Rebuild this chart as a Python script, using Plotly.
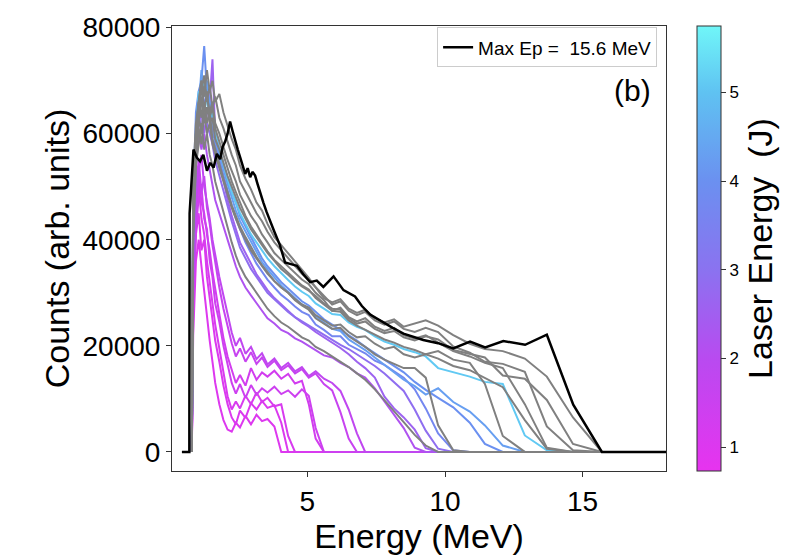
import plotly.graph_objects as go
from plotly.colors import sample_colorscale

# ---------------- data ----------------
# shared spectrometer energy grid (MeV)
E_GRID = [0.85, 0.95, 1.05, 1.15, 1.25, 1.35, 1.45, 1.55, 1.65, 1.80, 1.95, 2.10,
          2.25, 2.40, 2.55, 2.75, 2.95, 3.15, 3.35, 3.55, 3.80, 4.05, 4.30, 4.55,
          4.80, 5.05, 5.30, 5.60, 5.90, 6.20, 6.50, 6.80, 7.10, 7.45, 7.80, 8.15,
          8.50, 8.90, 9.30, 9.75, 10.30, 10.90, 11.45, 12.10, 12.90, 13.70, 14.65, 15.70]
E_START = 0.80
E_END = 18.03

# coloured shots (laser energy in J) -- counts along E_GRID until cut-off
M7_J, M7 = 1.00, [22000, 36000, 40000, 35000, 30000, 26000, 21000, 17000, 13000, 9000, 6000, 4200,
                  3800, 5500, 4600, 6800, 5200, 7000, 5800, 6200, 4800, 0]
M1_J, M1 = 1.05, [26000, 41000, 45000, 38000, 40000, 33000, 29000, 25000, 21000, 17000, 12500, 9000,
                  6500, 5200, 7800, 6400, 9200, 8000, 9600, 8300, 8800, 5500, 0]
M2_J, M2 = 1.15, [33000, 47000, 50000, 44000, 41000, 36000, 32000, 29000, 24000, 19500, 15000, 10500,
                  8000, 9500, 8200, 10600, 9000, 11200, 9400, 10200, 8600, 9000, 3000, 0]
M3_J, M3 = 1.30, [30000, 44000, 52000, 47000, 45000, 41000, 38000, 34000, 30500, 26000, 21500, 18000,
                  15500, 13000, 14500, 12500, 15800, 13600, 15000, 14200, 15300, 13800, 14700, 12900,
                  13400, 9000, 2500, 0]
M4_J, M4 = 1.45, [28000, 42000, 48000, 50000, 44000, 42000, 36000, 33000, 28000, 24500, 20000, 16500,
                  13000, 11000, 12800, 10200, 12600, 10800, 12000, 11200, 12300, 10900, 11600, 10400,
                  11800, 10600, 4500, 0]
M5_J, M5 = 1.60, [36000, 50000, 55000, 49000, 52000, 46000, 43000, 39000, 35500, 31000, 27000, 23500,
                  20500, 18000, 19500, 17000, 18800, 16600, 17800, 16000, 17200, 15400, 16300, 14800,
                  15600, 14000, 14800, 12800, 11600, 7500, 2500, 0]
M6_J, M6 = 1.80, [32000, 47000, 53000, 56000, 50000, 47000, 44000, 40000, 37000, 33000, 29500, 26000,
                  22500, 20000, 21500, 18500, 19800, 17500, 18600, 16500, 17600, 15800, 16800, 15200,
                  16000, 14300, 15200, 13800, 13000, 11500, 8000, 3500, 0]
P1_J, P1 = 2.20, [40000, 54000, 60000, 57000, 60000, 56000, 53000, 50000, 47500, 45000, 42500, 40000,
                  37500, 35000, 33000, 31000, 29500, 28000, 26500, 25200, 24200, 23000, 22400, 21400,
                  20800, 20000, 19200, 18200, 17800, 16800, 16000, 14800, 14000, 12000, 9500, 7000,
                  4500, 800, 0]
P2_J, P2 = 2.60, [38000, 54000, 62000, 64000, 60000, 64000, 66000, 74000, 60000, 55000, 51000, 47500,
                  44500, 42000, 39500, 37500, 35500, 33500, 32000, 30500, 29000, 27800, 26600, 25400,
                  24400, 23600, 22600, 21600, 20600, 19600, 18400, 17000, 15800, 14000, 10400, 8200,
                  6500, 4200, 700, 0]
P3_J, P3 = 2.90, [42000, 56000, 64000, 60000, 66000, 62000, 60000, 58000, 55000, 52000, 49000, 46000,
                  43500, 41000, 38500, 36500, 34500, 33000, 31500, 30000, 28800, 27600, 26400, 25400,
                  24600, 23800, 23000, 22000, 21200, 20200, 19400, 18400, 17400, 16200, 14800, 13200,
                  11500, 8000, 4000, 600, 0]
B1_J, B1 = 3.70, [45000, 60000, 66000, 70000, 65000, 68000, 63000, 61000, 58000, 55000, 52000, 49000,
                  46500, 44000, 42000, 39500, 37500, 35500, 34000, 32500, 31000, 29600, 28600, 27400,
                  26400, 25800, 24000, 23000, 21800, 21800, 20200, 19400, 18600, 17200, 16400, 15200,
                  14000, 11800, 8200, 3500, 300, 0]
B2_J, B2 = 4.00, [48000, 64000, 68000, 70000, 76500, 68000, 66000, 63000, 60000, 57000, 54000, 51500,
                  49000, 47000, 44500, 42500, 40500, 38500, 36500, 35000, 33500, 32000, 30800, 29600,
                  28400, 27600, 26400, 25000, 24000, 23000, 22000, 21000, 19800, 18600, 17400, 16200,
                  15000, 13200, 11700, 10200, 8400, 5500, 1500, 0]
B3_J, B3 = 4.30, [44000, 58000, 66000, 72000, 67000, 70000, 65000, 63000, 59000, 56000, 53000, 50500,
                  48000, 45500, 43500, 41500, 39500, 37500, 35800, 34400, 32800, 31400, 30200, 29000,
                  27800, 27000, 25600, 24400, 23200, 22800, 21200, 20200, 19200, 17800, 16400, 15000,
                  13600, 12400, 10800, 12000, 9400, 7600, 5000, 1200, 0]
L1_J, L1 = 5.10, [46000, 60000, 68000, 65000, 70000, 66000, 63000, 64000, 60000, 57000, 54000, 51500,
                  49000, 47000, 45000, 43000, 41000, 39500, 38000, 36500, 35000, 33600, 32400, 31200,
                  30200, 29400, 28000, 27000, 26000, 25800, 24400, 23600, 23000, 21800, 20800, 20200,
                  19400, 18800, 18000, 15800, 15000, 14200, 13200, 12800, 3100, 300, 0]

# shots without laser-energy record (grey)
GR1 = [40000, 54000, 58000, 62000, 57000, 60000, 56000, 54000, 51000, 48000, 45000, 42000,
       39500, 37000, 35000, 33000, 31500, 29800, 28400, 27000, 25600, 24400, 23600, 22600,
       21600, 21000, 19800, 19000, 18000, 17000, 16000, 14800, 13600, 11800, 9800, 7800,
       5600, 3200, 1200, 0]
GR2 = [44000, 58000, 63000, 60000, 66000, 62000, 64000, 59000, 57000, 54000, 51500, 49000,
       46500, 44500, 42500, 40500, 38500, 36800, 35200, 33800, 32200, 31000, 30000, 28600,
       27600, 26800, 25200, 24200, 23200, 23400, 21800, 20800, 19800, 18400, 17400, 16600,
       15800, 15800, 14000, 5000, 300, 0]
GR3 = [46000, 60000, 66000, 70000, 64000, 68000, 63000, 65000, 61000, 58500, 56000, 53500,
       51000, 49000, 47000, 44500, 42500, 41000, 39500, 37800, 36200, 35000, 33800, 32600,
       31400, 30600, 29000, 27800, 26600, 26400, 24800, 23800, 23000, 22000, 21200, 20600,
       19800, 19200, 18400, 19000, 17400, 16800, 12800, 3000, 0]
GR4 = [50000, 60000, 66000, 63000, 69000, 67000, 64000, 66000, 62000, 60000, 57500, 55000,
       53000, 51000, 48500, 46500, 44500, 43000, 41000, 39500, 37500, 36200, 35000, 33800,
       32500, 31600, 30000, 28600, 26600, 27200, 25400, 24600, 25200, 23600, 22800, 23400,
       22000, 21400, 22000, 20600, 19000, 18000, 16800, 15800, 9000, 800, 0]
GR5 = [48000, 58000, 64000, 68000, 71000, 66000, 69000, 65000, 67000, 63000, 61000, 58500,
       56000, 54000, 51000, 49000, 47000, 45000, 43500, 41500, 39500, 38000, 36600, 35000,
       33600, 32400, 31000, 29400, 27800, 28400, 26600, 25800, 26400, 24800, 24000, 24600,
       23200, 22600, 23400, 22600, 19900, 18700, 17000, 16600, 15100, 4800, 300, 0]
GR6 = [52000, 62000, 66000, 70000, 67000, 72000, 68000, 70000, 66000, 67500, 64000, 61500,
       59000, 57000, 54000, 51500, 49500, 47000, 45500, 43000, 40500, 39000, 37500, 36000,
       34500, 32800, 31000, 29000, 28200, 28800, 27000, 26200, 26800, 25200, 24400, 25000,
       23600, 24200, 24800, 23800, 22000, 20400, 19400, 19000, 17600, 14200, 6500, 0]
GR7 = [46000, 58000, 63000, 67000, 62000, 65000, 62000, 63000, 59000, 57000, 54500, 52000,
       50000, 48000, 46000, 44000, 42000, 40500, 39000, 37500, 36000, 34500, 33400, 32200,
       31200, 30400, 29400, 28000, 27000, 26800, 25200, 24200, 24600, 23200, 22400, 22800,
       21600, 21000, 21800, 21200, 19200, 18400, 17800, 14400, 13800, 9800, 1500, 0]
GR8 = [42000, 55000, 61000, 58000, 64000, 60000, 62000, 58000, 56000, 53500, 51000, 48500,
       46000, 44000, 42000, 40000, 38000, 36500, 35000, 33600, 32200, 31000, 30000, 28800,
       27800, 27200, 25800, 24800, 23800, 24000, 22600, 21600, 21800, 20400, 19400, 19800,
       18400, 17800, 18400, 17600, 16200, 15400, 14000, 12200, 6000, 600, 0]

# highest-energy shot (black)
BLACK_E = [0.44, 0.71, 0.72, 0.78, 0.86, 0.98, 1.10, 1.22, 1.35, 1.47, 1.59, 1.71, 1.83, 1.92, 2.01,
           2.10, 2.19, 2.28, 2.38, 2.47, 2.56, 2.65, 2.74, 2.83, 2.92, 3.01, 3.10, 3.19, 3.28, 3.40,
           3.52, 3.65, 3.80, 4.00, 4.19, 4.40, 4.62, 4.85, 5.10, 5.34, 5.58, 5.95, 6.31, 6.73, 6.98,
           7.28, 7.76, 8.10, 8.49, 8.85, 9.21, 9.75, 10.30, 10.91, 11.46, 12.12, 12.91, 13.70, 14.66,
           15.70, 18.03]
BLACK_C = [0, 0, 45000, 50000, 57000, 55500, 54800, 56000, 53000, 54500, 53600, 56200, 55200, 57500,
           58500, 60000, 62300, 60500, 58500, 57000, 55500, 54000, 52400, 53500, 51800, 52800, 52100,
           50500, 48800, 47000, 45200, 43300, 41500, 39000, 35700, 35400, 35100, 33500, 32000, 32300,
           31100, 33100, 30500, 29300, 27500, 25900, 24400, 23400, 22300, 21700, 21100, 20500, 19500,
           20800, 19700, 20900, 20200, 22100, 8900, 0, 0]
BLACK_LABEL = "Max Ep =\u00a0\u00a015.6 MeV"

COLORED = [(M7_J, M7), (M1_J, M1), (M2_J, M2), (M3_J, M3), (M4_J, M4), (M5_J, M5), (M6_J, M6),
           (P1_J, P1), (P2_J, P2), (P3_J, P3), (B1_J, B1), (B2_J, B2), (B3_J, B3), (L1_J, L1)]
GREY = [GR1, GR2, GR3, GR4, GR5, GR6, GR7, GR8]

X_TICKS = [5, 10, 15]
Y_TICKS = [0, 20000, 40000, 60000, 80000]
Y_TICKTEXT = ["0", "20000", "40000", "60000", "80000"]
CBAR_TICKS = [1, 2, 3, 4, 5]
CMIN, CMAX = 0.73, 5.75

# ---------------- style ----------------
COLORSCALE = [[0.0, "#e733ef"], [0.25, "#b94af0"], [0.45, "#8b72f0"],
              [0.65, "#6b90f0"], [0.85, "#5fc2f2"], [1.0, "#70f6f8"]]
FONT = "Liberation Sans, Arial, Helvetica, sans-serif"


def series(vals):
    n = len(vals)
    return [E_START] + E_GRID[:n] + [E_END], [0] + list(vals) + [0]


fig = go.Figure()

for j, vals in sorted(COLORED, key=lambda t: t[0]):
    c = sample_colorscale(COLORSCALE, [(j - CMIN) / (CMAX - CMIN)])[0]
    xs, ys = series(vals)
    fig.add_trace(go.Scatter(x=xs, y=ys, mode="lines", line=dict(color=c, width=2),
                             showlegend=False, hoverinfo="skip"))

for vals in GREY:
    xs, ys = series(vals)
    fig.add_trace(go.Scatter(x=xs, y=ys, mode="lines", line=dict(color="#808080", width=2),
                             showlegend=False, hoverinfo="skip"))

fig.add_trace(go.Scatter(x=BLACK_E, y=BLACK_C, mode="lines", line=dict(color="black", width=2.5),
                         name=BLACK_LABEL, showlegend=True))

# colour bar
fig.add_trace(go.Scatter(
    x=[None, None], y=[None, None], mode="markers", showlegend=False, hoverinfo="skip",
    marker=dict(color=[CMIN, CMAX], cmin=CMIN, cmax=CMAX, colorscale=COLORSCALE, showscale=True,
                colorbar=dict(x=1.062, xanchor="left", y=0.5, yanchor="middle", len=1.0,
                              lenmode="fraction", thickness=24, xpad=0, ypad=0,
                              outlinewidth=1, outlinecolor="#333",
                              tickvals=CBAR_TICKS, ticks="outside", ticklen=5, tickcolor="#333",
                              tickfont=dict(size=17, color="black", family=FONT),
                              title=dict(text="Laser Energy\u00a0 (J)", side="right",
                                         font=dict(size=34, color="black", family=FONT))))))

fig.update_layout(
    width=800, height=558,
    margin=dict(l=172, r=134, t=17, b=81),
    paper_bgcolor="white", plot_bgcolor="white",
    font=dict(family=FONT, color="black"),
    showlegend=True,
    legend=dict(x=0.982, xanchor="right", y=0.997, yanchor="top",
                bgcolor="white", bordercolor="#cccccc", borderwidth=1,
                font=dict(size=19, color="black", family=FONT)),
    annotations=[dict(text="(b)", x=0.933, y=0.856, xref="paper", yref="paper",
                      xanchor="center", yanchor="middle",
                      showarrow=False, font=dict(size=30, color="black", family=FONT))],
)

fig.update_xaxes(range=[0.08, E_END], tickvals=X_TICKS, ticks="outside", ticklen=5,
                 tickcolor="#333", showline=True, linecolor="#333", linewidth=1, mirror=True,
                 showgrid=False, zeroline=False, tickfont=dict(size=28),
                 title=dict(text="Energy (MeV)", font=dict(size=34), standoff=6))
fig.update_yaxes(range=[-3600, 80300], tickvals=Y_TICKS, ticktext=Y_TICKTEXT, ticks="outside",
                 ticklen=5, tickcolor="#333", showline=True, linecolor="#333", linewidth=1,
                 mirror=True, showgrid=False, zeroline=False, tickfont=dict(size=28),
                 title=dict(text="Counts (arb. units)", font=dict(size=34), standoff=2))

fig.write_html("out.html", config={"displayModeBar": False})
